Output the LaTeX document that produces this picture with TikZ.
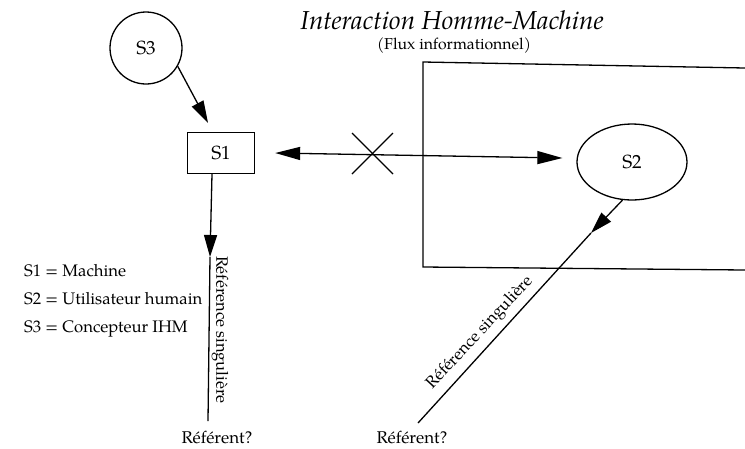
\documentclass[tikz,border=0pt]{standalone}
\usepackage{fontspec}
\setmainfont{TeX Gyre Pagella}
\usetikzlibrary{arrows.meta,shapes.geometric,calc}
\tikzset{
  ln/.style={line width=1.3pt},
  arr/.style={ln,-{Triangle[length=22pt,width=13pt]}},
  darr/.style={ln,{Triangle[length=25pt,width=13pt]}-{Triangle[length=25pt,width=13pt]}},
  sname/.style={font=\fontsize{19}{21}\selectfont,inner sep=0pt},
  lab/.style={font=\fontsize{16.5}{18}\selectfont,inner sep=1pt},
  leg/.style={font=\fontsize{16.7}{18}\selectfont,anchor=base west,inner sep=0pt}
}
\begin{document}
\begin{tikzpicture}[x=1pt,y=-1pt]
\useasboundingbox (0,0) rectangle (745,448);
% title
\node[font=\fontsize{26}{28}\selectfont\itshape] (title) at (452,20) {Interaction Homme-Machine};
\node[font=\fontsize{15.8}{17}\selectfont] (sub) at (454,46) {(Flux informationnel)};
% frame
\draw[ln] (745,68) -- (423,62) -- (423,267) -- (745,270);
% nodes
\node[sname,circle,draw,ln,minimum size=72pt] (s3) at (146,48) {S3};
\node[sname,draw,ln,minimum width=67pt,minimum height=41pt] (s1) at (221,153) {S1};
\node[sname,ellipse,draw,ln,minimum width=110pt,minimum height=76pt] (s2) at (632,162) {S2};
\node[lab,font=\fontsize{17}{19}\selectfont] (r1) at (217,437) {Référent?};
\node[lab,font=\fontsize{17}{19}\selectfont] (r2) at (412,437) {Référent?};
% S3 -> S1
\draw[arr] (s3.-30) -- ($(s1.north)+(-13,-9)$);
% S1 <-> S2
\draw[darr] ($(s1.east)+(20,0)$) -- ($(s2.west)+(-14,-4)$);
\draw[ln] (352,133) -- (393,174);
\draw[ln] (352,174) -- (393,133);
% S1 -> referent
\coordinate (v0) at ([xshift=-9pt]s1.south);
\coordinate (vm) at (210,257);
\coordinate (v1) at (208,421);
\draw[arr] (v0) -- (vm);
\draw[ln] (vm) -- (v1);
\node[lab,rotate=-90] (l1) at (220,330) {Référence singulière};
% S2 -> referent
\coordinate (d0) at (s2.-104);
\coordinate (dm) at (591,233);
\coordinate (d1) at (418,423);
\draw[arr] (d0) -- (dm);
\draw[ln] (dm) -- (d1);
\node[lab,rotate=47] (l2) at (480,333) {Référence singulière};
% legend
\node[leg] (k1) at (24,276) {S1 = Machine};
\node[leg] (k2) at (24,304) {S2 = Utilisateur humain};
\node[leg] (k3) at (24,332) {S3 = Concepteur IHM};
\end{tikzpicture}
\end{document}
